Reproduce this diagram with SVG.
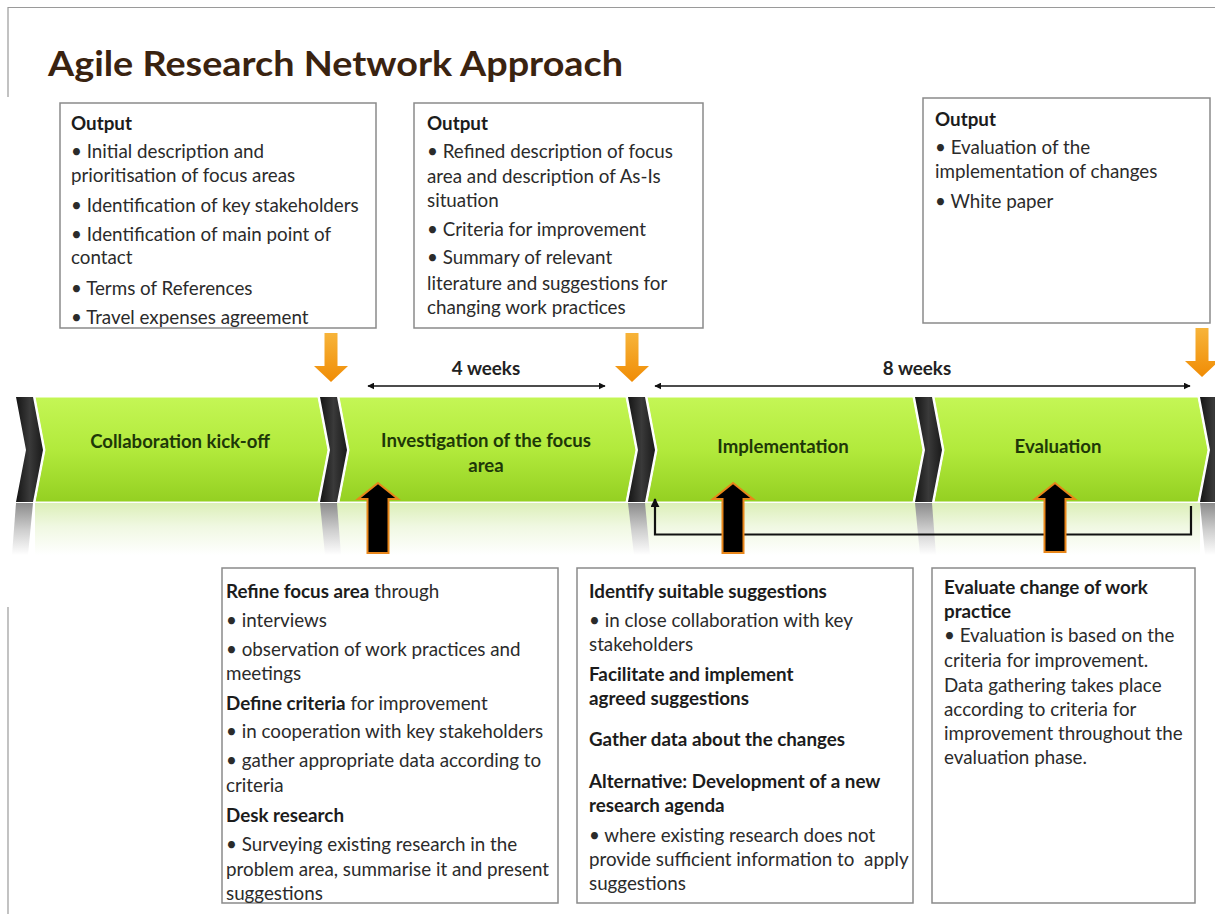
<svg xmlns="http://www.w3.org/2000/svg" width="1215" height="914" viewBox="0 0 1215 914">
<defs>
<style>
.t{font-family:Lato,"Liberation Sans",sans-serif;font-size:18.8px;fill:#2b2b2b}
.b{font-weight:bold;fill:#1c1c1c}
.box{fill:#fff;stroke:#8a8a8a;stroke-width:1.5}
.ph{font-family:Lato,"Liberation Sans",sans-serif;font-size:18.6px;font-weight:bold;fill:#1e3808;text-anchor:middle}
.wk{font-family:Lato,"Liberation Sans",sans-serif;font-size:18.8px;font-weight:bold;fill:#222;text-anchor:middle}
.blk{fill:url(#gBlack)}
.grn{fill:url(#gGreen);stroke:#fff;stroke-width:1}
.org{fill:url(#gOrange)}
.up{fill:#000;stroke:#e8861a;stroke-width:2}
.dur{stroke:#111;stroke-width:1.5;fill:none}
</style>
<linearGradient id="gGreen" x1="0" y1="0" x2="0" y2="1">
<stop offset="0" stop-color="#c4f655"/>
<stop offset="0.5" stop-color="#b2ea3c"/>
<stop offset="1" stop-color="#94d022"/>
</linearGradient>
<linearGradient id="gBlack" x1="0" y1="0" x2="1" y2="0">
<stop offset="0" stop-color="#151515"/>
<stop offset="0.5" stop-color="#3a3a3a"/>
<stop offset="1" stop-color="#1a1a1a"/>
</linearGradient>
<linearGradient id="gRefG" x1="0" y1="0" x2="0" y2="1">
<stop offset="0" stop-color="#dcefb8"/>
<stop offset="0.45" stop-color="#f0f8e2"/>
<stop offset="1" stop-color="#ffffff"/>
</linearGradient>
<linearGradient id="gRefB" x1="0" y1="0" x2="0" y2="1">
<stop offset="0" stop-color="#8c8c8c"/>
<stop offset="0.5" stop-color="#cccccc"/>
<stop offset="1" stop-color="#ffffff"/>
</linearGradient>
<linearGradient id="gOrange" x1="0" y1="0" x2="0" y2="1">
<stop offset="0" stop-color="#f7b43a"/>
<stop offset="1" stop-color="#f08c05"/>
</linearGradient>
<marker id="ah" viewBox="0 0 10 10" refX="9" refY="5" markerWidth="7" markerHeight="7" markerUnits="userSpaceOnUse" orient="auto-start-reverse">
<path d="M0,0 L10,5 L0,10 z" fill="#111"/>
</marker>
<marker id="ah2" viewBox="0 0 10 10" refX="9" refY="5" markerWidth="9" markerHeight="9" markerUnits="userSpaceOnUse" orient="auto">
<path d="M0,0 L10,5 L0,10 z" fill="#111"/>
</marker>
</defs>
<rect width="1215" height="914" fill="#fff"/>
<!-- frame -->
<path d="M8,97 V7.5 H1215" fill="none" stroke="#9a9a9a" stroke-width="1.2"/>
<path d="M8,607 V914" fill="none" stroke="#9a9a9a" stroke-width="1.2"/>
<text x="48" y="76" textLength="575" lengthAdjust="spacingAndGlyphs" style="font-family:Lato,'Liberation Sans',sans-serif;font-size:35px;font-weight:bold;fill:#3a2310">Agile Research Network Approach</text>

<!-- reflection -->
<g id="reflection">
<rect x="35" y="503" width="1165" height="52" fill="url(#gRefG)"/>
<polygon points="16,503 33,503 28,555 12,555" fill="url(#gRefB)"/>
<polygon points="320,503 337,503 341,555 325,555" fill="url(#gRefB)"/>
<polygon points="628,503 645,503 650,555 634,555" fill="url(#gRefB)"/>
<polygon points="915,503 932,503 936,555 920,555" fill="url(#gRefB)"/>
<polygon points="1200,503 1217,503 1217,555 1205,555" fill="url(#gRefB)"/>
</g>

<!-- chevron band -->
<g id="band">
<polygon class="blk" points="16,397 33,397 43,450 33,502 16,502 26,450"/>
<polygon class="blk" points="320,397 337,397 347,450 337,502 320,502 330,450"/>
<polygon class="blk" points="628,397 645,397 655,450 645,502 628,502 638,450"/>
<polygon class="blk" points="915,397 932,397 942,450 932,502 915,502 925,450"/>
<polygon class="blk" points="1200,397 1217,397 1227,450 1217,502 1200,502 1210,450"/>
</g>
<g id="phase-kickoff">
<polygon class="grn" points="35,397 318,397 328,450 318,502 35,502 45,450"/>
<text class="ph" x="180" y="448">Collaboration kick-off</text>
</g>
<g id="phase-investigation">
<polygon class="grn" points="339,397 626,397 636,450 626,502 339,502 349,450"/>
<text class="ph" x="486" y="447">Investigation of the focus</text>
<text class="ph" x="486" y="472">area</text>
</g>
<g id="phase-implementation">
<polygon class="grn" points="647,397 913,397 923,450 913,502 647,502 657,450"/>
<text class="ph" x="783" y="453">Implementation</text>
</g>
<g id="phase-evaluation">
<polygon class="grn" points="934,397 1198,397 1208,450 1198,502 934,502 944,450"/>
<text class="ph" x="1058" y="453">Evaluation</text>
</g>

<!-- connectors -->
<g id="connectors">
<polygon class="org" points="324.5,333 337.5,333 337.5,366 348,366 331,382 314,366 324.5,366"/>
<polygon class="org" points="625.5,333 638.5,333 638.5,366 649,366 632,382 615,366 625.5,366"/>
<polygon class="org" points="1195.5,328 1208.5,328 1208.5,361 1219,361 1202,377 1185,361 1195.5,361"/>
<line class="dur" x1="368" y1="386" x2="605" y2="386" marker-start="url(#ah)" marker-end="url(#ah)"/>
<line class="dur" x1="655" y1="386" x2="1190" y2="386" marker-start="url(#ah)" marker-end="url(#ah)"/>
<text class="wk" x="486" y="375">4 weeks</text>
<text class="wk" x="917" y="375">8 weeks</text>
<path d="M1191,506 V534.5 H655 V499" fill="none" stroke="#111" stroke-width="2.2" marker-end="url(#ah2)"/>
<polygon class="up" points="367.5,553 388.5,553 388.5,499 398,499 378,483 358,499 367.5,499"/>
<polygon class="up" points="722.5,553 743.5,553 743.5,499 753,499 733,483 713,499 722.5,499"/>
<polygon class="up" points="1044.5,552 1065.5,552 1065.5,499 1075,499 1055,483 1035,499 1044.5,499"/>
</g>

<!-- top boxes -->
<g id="out-kickoff">
<rect class="box" x="60" y="103" width="316" height="225"/>
<text class="t" x="71"><tspan class="b" y="130">Output</tspan><tspan x="71" y="158">• Initial description and</tspan><tspan x="71" y="182">prioritisation of focus areas</tspan><tspan x="71" y="212">• Identification of key stakeholders</tspan><tspan x="71" y="241">• Identification of main point of</tspan><tspan x="71" y="264">contact</tspan><tspan x="71" y="295">• Terms of References</tspan><tspan x="71" y="324">• Travel expenses agreement</tspan></text>
</g>
<g id="out-investigation">
<rect class="box" x="414" y="103" width="289" height="225"/>
<text class="t" x="427"><tspan class="b" y="130">Output</tspan><tspan x="427" y="158">• Refined description of focus</tspan><tspan x="427" y="183">area and description of As-Is</tspan><tspan x="427" y="207">situation</tspan><tspan x="427" y="236">• Criteria for improvement</tspan><tspan x="427" y="264">• Summary of relevant</tspan><tspan x="427" y="290">literature and suggestions for</tspan><tspan x="427" y="314">changing work practices</tspan></text>
</g>
<g id="out-evaluation">
<rect class="box" x="923" y="98" width="287" height="225"/>
<text class="t" x="935"><tspan class="b" y="126">Output</tspan><tspan x="935" y="154">• Evaluation of the</tspan><tspan x="935" y="178">implementation of changes</tspan><tspan x="935" y="208">• White paper</tspan></text>
</g>

<!-- bottom boxes -->
<g id="act-investigation">
<rect class="box" x="222" y="568" width="336" height="335"/>
<text class="t" x="226"><tspan class="b" y="598">Refine focus area</tspan><tspan> through</tspan><tspan x="226" y="627">• interviews</tspan><tspan x="226" y="656">• observation of work practices and</tspan><tspan x="226" y="680">meetings</tspan><tspan x="226" y="710" class="b">Define criteria</tspan><tspan> for improvement</tspan><tspan x="226" y="738">• in cooperation with key stakeholders</tspan><tspan x="226" y="767">• gather appropriate data according to</tspan><tspan x="226" y="792">criteria</tspan><tspan x="226" y="822" class="b">Desk research</tspan><tspan x="226" y="851">• Surveying existing research in the</tspan><tspan x="226" y="876">problem area, summarise it and present</tspan><tspan x="226" y="900">suggestions</tspan></text>
</g>
<g id="act-implementation">
<rect class="box" x="577" y="568" width="336" height="335"/>
<text class="t" x="589"><tspan class="b" y="598">Identify suitable suggestions</tspan><tspan x="589" y="627">• in close collaboration with key</tspan><tspan x="589" y="651">stakeholders</tspan><tspan x="589" y="681" class="b">Facilitate and implement</tspan><tspan x="589" y="705" class="b">agreed suggestions</tspan><tspan x="589" y="746" class="b">Gather data about the changes</tspan><tspan x="589" y="788" class="b">Alternative: Development of a new</tspan><tspan x="589" y="812" class="b">research agenda</tspan><tspan x="589" y="842">• where existing research does not</tspan><tspan x="589" y="866">provide sufficient information to&#160; apply</tspan><tspan x="589" y="890">suggestions</tspan></text>
</g>
<g id="act-evaluation">
<rect class="box" x="932" y="568" width="263" height="335"/>
<text class="t" x="944"><tspan class="b" y="594">Evaluate change of work</tspan><tspan x="944" y="618" class="b">practice</tspan><tspan x="944" y="642">• Evaluation is based on the</tspan><tspan x="944" y="667">criteria for improvement.</tspan><tspan x="944" y="692">Data gathering takes place</tspan><tspan x="944" y="716">according to criteria for</tspan><tspan x="944" y="740">improvement throughout the</tspan><tspan x="944" y="764">evaluation phase.</tspan></text>
</g>
</svg>
